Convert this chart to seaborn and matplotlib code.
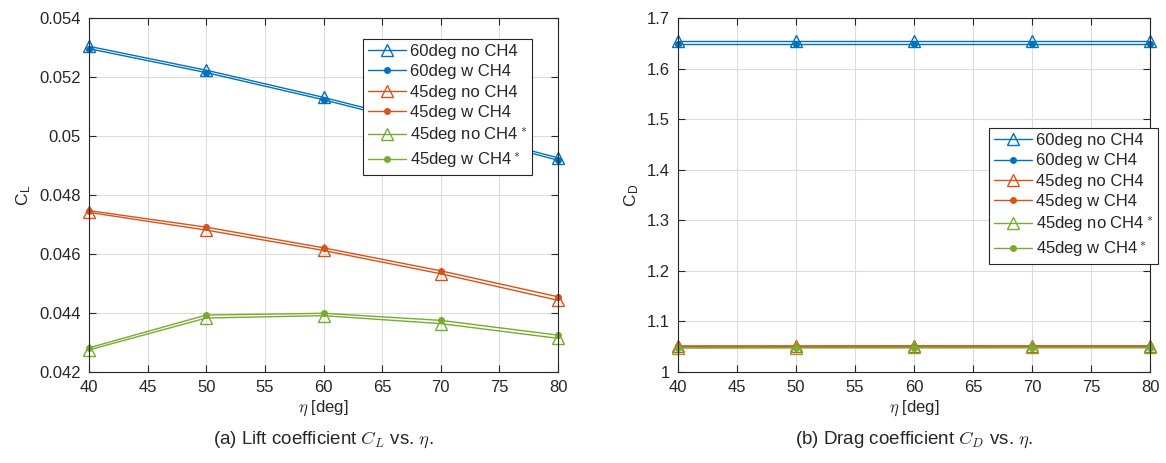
import matplotlib
matplotlib.use('Agg')
import matplotlib.pyplot as plt
import seaborn as sns
import pandas as pd

eta = [40, 50, 60, 70, 80]

series_names = ['60deg no CH4', '60deg w CH4', '45deg no CH4', '45deg w CH4',
                '45deg no CH4$^*$', '45deg w CH4$^*$']

cl_60_no = [0.05304, 0.05223, 0.05131, 0.05030, 0.04926]
cl_60_w = [0.05296, 0.05215, 0.05123, 0.05022, 0.04918]
cl_45_no = [0.04741, 0.04681, 0.04612, 0.04533, 0.04443]
cl_45_w = [0.04747, 0.04691, 0.04621, 0.04543, 0.04455]
cl_45s_no = [0.04275, 0.04383, 0.04391, 0.04364, 0.04314]
cl_45s_w = [0.04282, 0.04393, 0.04399, 0.04375, 0.04325]

cd_60_no = [1.6555, 1.6555, 1.6555, 1.6555, 1.6555]
cd_60_w = [1.6495, 1.6495, 1.6495, 1.6495, 1.6495]
cd_45_no = [1.0505, 1.0507, 1.0508, 1.0508, 1.0508]
cd_45_w = [1.0515, 1.0516, 1.0517, 1.0517, 1.0517]
cd_45s_no = [1.0482, 1.0484, 1.0485, 1.0486, 1.0487]
cd_45s_w = [1.0475, 1.0477, 1.0478, 1.0479, 1.0480]

blue, orange, green = '#0072BD', '#D95319', '#77AC30'
colors = [blue, blue, orange, orange, green, green]
markers = ['^', 'o', '^', 'o', '^', 'o']

sns.set_style('ticks')
plt.rcParams['font.family'] = ['Liberation Sans', 'DejaVu Sans']
plt.rcParams['mathtext.fontset'] = 'cm'
plt.rcParams['font.size'] = 11

fig = plt.figure(figsize=(11.66, 4.63), dpi=100)
W, H = 1166, 463
ax1 = fig.add_axes([89 / W, 1 - 372 / H, (558 - 89) / W, (372 - 18) / H])
ax2 = fig.add_axes([678 / W, 1 - 372 / H, (1150 - 678) / W, (372 - 18) / H])


def draw(ax, data, ylim, yticks, ylabel, yfmt):
    for name, vals, c, m in zip(series_names, data, colors, markers):
        df = pd.DataFrame({'eta': eta, 'val': vals})
        if m == '^':
            kw = dict(markersize=8, markerfacecolor='none', markeredgecolor=c,
                      markeredgewidth=1.0)
        else:
            kw = dict(markersize=5, markerfacecolor=c, markeredgecolor=c,
                      markeredgewidth=0)
        sns.lineplot(data=df, x='eta', y='val', ax=ax, color=c, marker=m,
                     linewidth=1.0, label=name, clip_on=False, **kw)
    ax.set_xlim(40, 80)
    ax.set_ylim(*ylim)
    ax.set_xticks(range(40, 81, 5))
    ax.set_yticks(yticks)
    ax.set_yticklabels([yfmt(v) for v in yticks])
    ax.grid(True, color='#dcdcdc', linewidth=0.8)
    ax.set_axisbelow(True)
    ax.tick_params(direction='in', top=True, right=True, length=5, width=0.8,
                   colors='#262626', labelsize=12, pad=6)
    for s in ax.spines.values():
        s.set_color('#262626')
        s.set_linewidth(0.8)
    ax.set_xlabel(r'$\eta$ [deg]', fontsize=12, color='#262626', labelpad=2)
    ax.set_ylabel(ylabel, fontsize=12.5, color='#262626', labelpad=4)


def fmt_cl(v):
    s = '%.3f' % v
    return s.rstrip('0') if s.endswith('0') else s


def fmt_cd(v):
    s = '%.1f' % v
    return s[:-2] if s.endswith('.0') else s


draw(ax1, [cl_60_no, cl_60_w, cl_45_no, cl_45_w, cl_45s_no, cl_45s_w],
     (0.042, 0.054), [0.042 + 0.002 * i for i in range(7)],
     r'C$_\mathregular{L}$', fmt_cl)
draw(ax2, [cd_60_no, cd_60_w, cd_45_no, cd_45_w, cd_45s_no, cd_45s_w],
     (1.0, 1.7), [1.0 + 0.1 * i for i in range(8)],
     r'C$_\mathregular{D}$', fmt_cd)

for ax, box in [(ax1, (363, 39, 520, 173)), (ax2, (989, 128, 1147, 262))]:
    leg = ax.legend(loc='upper left', fontsize=12, frameon=True, fancybox=False,
                    edgecolor='#262626', framealpha=1, handlelength=2.3,
                    handletextpad=0.2, labelspacing=0.32, borderpad=0.3,
                    borderaxespad=0,
                    bbox_to_anchor=(box[0] / W, 1 - box[1] / H),
                    bbox_transform=fig.transFigure)
    leg.get_frame().set_linewidth(0.8)

fig.text((89 + 558) / 2 / W, 1 - 440 / H, r'(a) Lift coefficient $C_L$ vs. $\eta$.',
         ha='center', va='center', fontsize=13.5)
fig.text((678 + 1150) / 2 / W, 1 - 440 / H, r'(b) Drag coefficient $C_D$ vs. $\eta$.',
         ha='center', va='center', fontsize=13.5)

fig.savefig('out.png', dpi=100)
